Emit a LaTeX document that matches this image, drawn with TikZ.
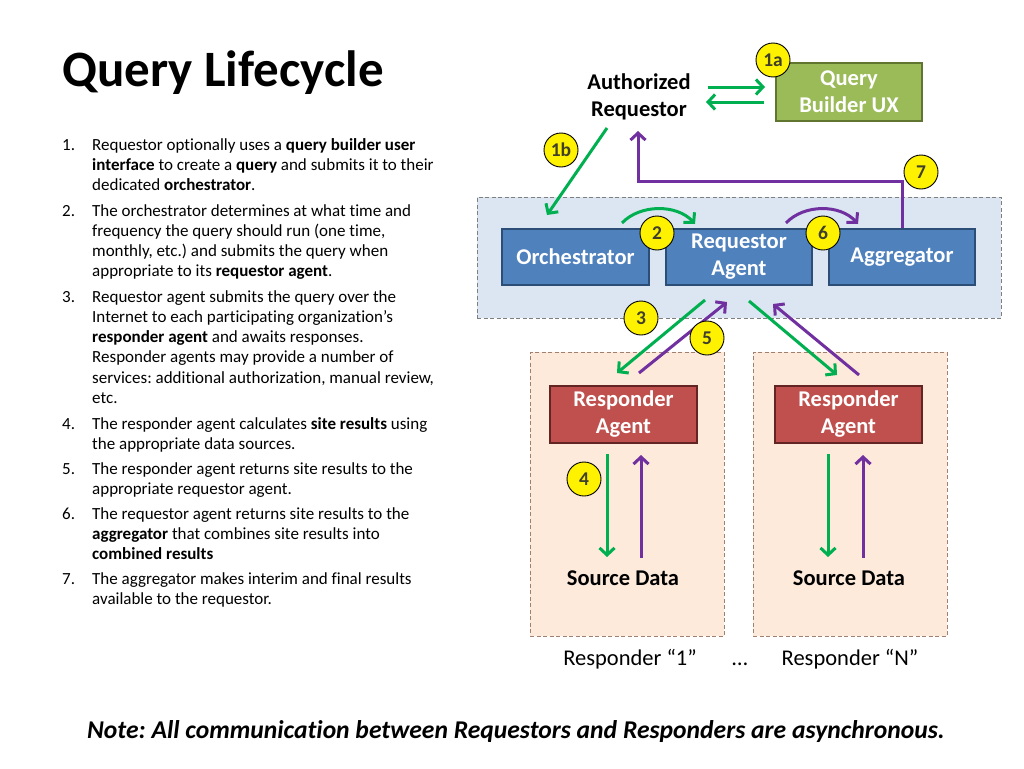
\documentclass[tikz,border=0pt]{standalone}
\usepackage{fontspec}
\setmainfont{Carlito}[Ligatures={NoCommon}]
\frenchspacing
\usetikzlibrary{arrows.meta}
\definecolor{bluefill}{HTML}{4F81BD}
\definecolor{blueborder}{HTML}{2C4D75}
\definecolor{contfill}{HTML}{DCE6F2}
\definecolor{contborder}{HTML}{7F7F7F}
\definecolor{peachfill}{HTML}{FDEADA}
\definecolor{peachborder}{HTML}{A08070}
\definecolor{redfill}{HTML}{C0504D}
\definecolor{redborder}{HTML}{632523}
\definecolor{greenfill}{HTML}{9BBB59}
\definecolor{greenborder}{HTML}{5F7530}
\definecolor{arrgreen}{HTML}{00B050}
\definecolor{arrpurple}{HTML}{7030A0}
\definecolor{numtext}{HTML}{3F3F2A}
\newcommand\bxfont{\fontsize{22.5}{27}\selectfont\bfseries}
\newcommand\lstfont{\fontsize{17}{20.3}\selectfont}
\begin{document}
\begin{tikzpicture}[x=1pt,y=-1pt,
  listtxt/.style={anchor=base west,inner sep=0pt,font=\lstfont},
  boxbase/.style={line width=2pt,text=white,font=\bxfont,align=center,inner sep=0pt,minimum height=56pt,minimum width=147pt},
  bluebox/.style={boxbase,draw=blueborder,fill=bluefill},
  redbox/.style={boxbase,draw=redborder,fill=redfill,minimum height=57pt},
  greenbox/.style={boxbase,draw=greenborder,fill=greenfill,minimum height=58pt,minimum width=146pt},
  contbox/.style={draw=contborder,fill=contfill,line width=0.9pt,dash pattern=on 4pt off 2.5pt,inner sep=0pt},
  peachbox/.style={draw=peachborder,fill=peachfill,line width=0.9pt,dash pattern=on 4pt off 2.5pt,inner sep=0pt,minimum width=194pt,minimum height=284pt},
  numcircle/.style={circle,draw=black,fill=yellow,line width=0.9pt,minimum size=34pt,inner sep=0pt,font=\fontsize{19.5}{22}\selectfont\bfseries,text=numtext},
  plaintxt/.style={inner sep=0pt,align=center,font=\bxfont},
  labtxt/.style={inner sep=0pt,anchor=base,font=\fontsize{22.5}{27}\selectfont},
  garrow/.style={draw=arrgreen,line width=3pt,-{Straight Barb[length=7pt,width=15pt,line width=3pt]}},
  parrow/.style={draw=arrpurple,line width=3pt,-{Straight Barb[length=7pt,width=15pt,line width=3pt]}}
]
\useasboundingbox[fill=white] (0,0) rectangle (1024,768);

% title
\node[anchor=base west,inner sep=0pt,font=\fontsize{51}{60}\selectfont\bfseries] (title) at (62,86) {Query Lifecycle};

% list
\node[listtxt] (n1) at (62,150) {1.};
\node[listtxt] (l1a) at (92,150) {Requestor optionally uses a \textbf{query builder user}};
\node[listtxt] (l1b) at (92,170.3) {\textbf{interface} to create a \textbf{query} and submits it to their};
\node[listtxt] (l1c) at (92,190.6) {dedicated \textbf{orchestrator}.};
\node[listtxt] (n2) at (62,216) {2.};
\node[listtxt] (l2a) at (92,216) {The orchestrator determines at what time and};
\node[listtxt] (l2b) at (92,236.3) {frequency the query should run (one time,};
\node[listtxt] (l2c) at (92,256.6) {monthly, etc.) and submits the query when};
\node[listtxt] (l2d) at (92,276.9) {appropriate to its \textbf{requestor agent}.};
\node[listtxt] (n3) at (62,302) {3.};
\node[listtxt] (l3a) at (92,302) {Requestor agent submits the query over the};
\node[listtxt] (l3b) at (92,322.3) {Internet to each participating organization’s};
\node[listtxt] (l3c) at (92,342.6) {\textbf{responder agent} and awaits responses.};
\node[listtxt] (l3d) at (92,362.9) {Responder agents may provide a number of};
\node[listtxt] (l3e) at (92,383.2) {services: additional authorization, manual review,};
\node[listtxt] (l3f) at (92,403.5) {etc.};
\node[listtxt] (n4) at (62,429) {4.};
\node[listtxt] (l4a) at (92,429) {The responder agent calculates \textbf{site results} using};
\node[listtxt] (l4b) at (92,449.3) {the appropriate data sources.};
\node[listtxt] (n5) at (62,474) {5.};
\node[listtxt] (l5a) at (92,474) {The responder agent returns site results to the};
\node[listtxt] (l5b) at (92,494.3) {appropriate requestor agent.};
\node[listtxt] (n6) at (62,519) {6.};
\node[listtxt] (l6a) at (92,519) {The requestor agent returns site results to the};
\node[listtxt] (l6b) at (92,539.3) {\textbf{aggregator} that combines site results into};
\node[listtxt] (l6c) at (92,559.6) {\textbf{combined results}};
\node[listtxt] (n7) at (62,584) {7.};
\node[listtxt] (l7a) at (92,584) {The aggregator makes interim and final results};
\node[listtxt] (l7b) at (92,604.3) {available to the requestor.};

% containers
\node[contbox,minimum width=524pt,minimum height=121pt] (cont) at (739,257.5) {};
\node[peachbox] (resp1) at (627,494) {};
\node[peachbox] (respN) at (850,494) {};

% boxes
\node[bluebox] (orch) at (575.5,257) {Orchestrator};
\node[bluebox,minimum width=146pt] (ragent) at (739,257) {Requestor\\Agent};
\node[bluebox,minimum width=146pt] (agg) at (902,257) {Aggregator};
\node[redbox] (rsp1) at (623.5,414.5) {Responder\\Agent};
\node[redbox] (rspN) at (848.5,414.5) {Responder\\Agent};
\node[greenbox] (qb) at (849,92) {Query\\Builder UX};

% plain texts
\node[plaintxt] (authreq) at (639,97) {Authorized\\Requestor};
\node[plaintxt] (src1) at (623,578) {Source Data};
\node[plaintxt] (srcN) at (849,578) {Source Data};
\node[labtxt] (lab1) at (630,665) {Responder “1”};
\node[labtxt] (dots) at (740,665) {…};
\node[labtxt] (labN) at (850,665) {Responder “N”};
\node[plaintxt,font=\fontsize{25.6}{30}\selectfont\bfseries\itshape] (note) at (516,732) {Note: All communication between Requestors and Responders are asynchronous.};

% coordinates for connector ends
\coordinate (ar1) at (708,87);
\coordinate (qb1) at (765,87);
\coordinate (qb2) at (764,102);
\coordinate (ar2) at (706,102);
\coordinate (b1s) at (607,128);
\coordinate (b1e) at (547,215);
\coordinate (p7) at (638,181);
\coordinate (t7) at (638,131);
\coordinate (c2s) at (622,223);
\coordinate (c2e) at (695,224);
\coordinate (c6s) at (786,223);
\coordinate (c6e) at (858,224);
\coordinate (g3s) at (705,300);
\coordinate (g3e) at (617,373);
\coordinate (p5s) at (639,373);
\coordinate (p5e) at (727,302);
\coordinate (g3s2) at (749,301);
\coordinate (g3e2) at (837,375);
\coordinate (p5s2) at (859,375);
\coordinate (p5e2) at (773,304);
\coordinate (g4s) at (607,454);
\coordinate (g4e) at (607,557);
\coordinate (p4s) at (641,558);
\coordinate (p4e) at (641,455);
\coordinate (g4s2) at (828,454);
\coordinate (g4e2) at (828,557);
\coordinate (p4s2) at (863,558);
\coordinate (p4e2) at (863,455);

% connectors
\draw[garrow] (ar1) -- (qb1);
\draw[garrow] (qb2) -- (ar2);
\draw[garrow] (b1s) -- (b1e);
\draw[parrow] (agg.north) |- (p7) -- (t7);
\draw[garrow] (c2s) .. controls (640,204) and (677,204) .. (c2e);
\draw[parrow] (c6s) .. controls (804,204) and (840,204) .. (c6e);
\draw[garrow] (g3s) -- (g3e);
\draw[parrow] (p5s) -- (p5e);
\draw[garrow] (g3s2) -- (g3e2);
\draw[parrow] (p5s2) -- (p5e2);
\draw[garrow] (g4s) -- (g4e);
\draw[parrow] (p4s) -- (p4e);
\draw[garrow] (g4s2) -- (g4e2);
\draw[parrow] (p4s2) -- (p4e2);

% number circles
\node[numcircle] (c1a) at (773,60) {1a};
\node[numcircle] (c1b) at (561,150) {1b};
\node[numcircle] (c7) at (921,172) {7};
\node[numcircle] (c2) at (657,233) {2};
\node[numcircle] (c6) at (823,233) {6};
\node[numcircle] (c3) at (641,318) {3};
\node[numcircle] (c5) at (707,338) {5};
\node[numcircle] (c4) at (584,479) {4};
\end{tikzpicture}
\end{document}
